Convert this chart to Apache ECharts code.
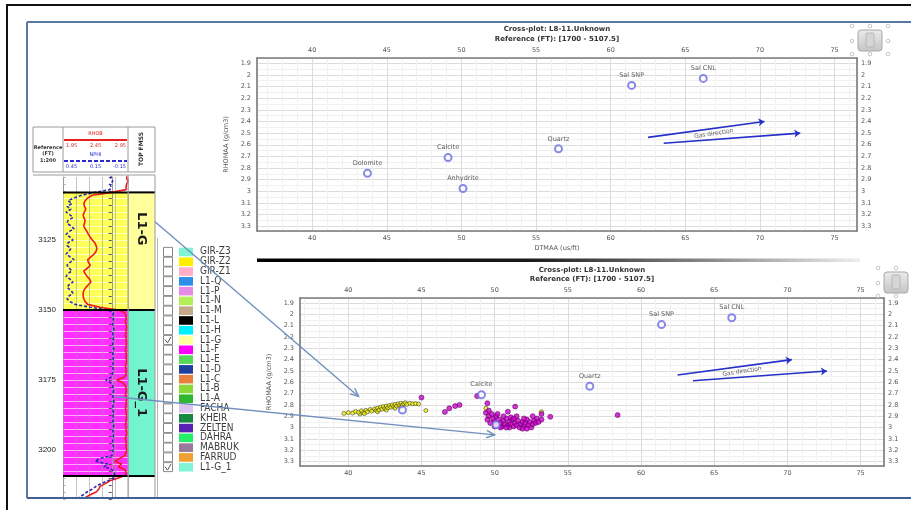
<!DOCTYPE html>
<html><head><meta charset="utf-8">
<script src="https://cdn.jsdelivr.net/npm/echarts@6/dist/echarts.min.js"></script>
<style>html,body{margin:0;padding:0;background:#fff}#c{width:911px;height:510px}</style>
</head><body><div id="c"></div>
<script>
// ---------- DATA ----------
const X_TICKS = [40,45,50,55,60,65,70,75];
const Y_TICKS = [1.9,2,2.1,2.2,2.3,2.4,2.5,2.6,2.7,2.8,2.9,3,3.1,3.2,3.3];
const MINERALS = [['Sal CNL',66.2,2.03],['Sal SNP',61.4,2.09],['Quartz',56.5,2.635],['Calcite',49.1,2.71],['Dolomite',43.7,2.845],['Anhydrite',50.1,2.975]];
const LOWER_PLOT_LABELLED = ['Sal CNL','Sal SNP','Quartz','Calcite'];
const GAS_ARROWS = [[[62.5,2.536],[70.3,2.40]],[[63.55,2.587],[72.7,2.50]]];
const GAS_LABEL = [66.9,2.505,'Gas direction'];
const L1G_POINTS = [[39.7,2.875],[40.0,2.868],[40.3,2.872],[40.5,2.858],[40.8,2.88],[40.7,2.865],[40.9,2.852],[41.0,2.87],[41.1,2.876],[41.2,2.848],[41.3,2.862],[41.5,2.84],[41.6,2.855],[41.8,2.835],[41.9,2.85],[42.0,2.828],[42.0,2.86],[42.1,2.845],[42.2,2.82],[42.3,2.838],[42.4,2.815],[42.5,2.832],[42.6,2.81],[42.6,2.845],[42.7,2.825],[42.8,2.805],[42.9,2.82],[43.0,2.8],[43.1,2.815],[43.2,2.795],[43.2,2.83],[43.3,2.81],[43.4,2.79],[43.5,2.805],[43.6,2.785],[43.6,2.82],[43.7,2.8],[43.8,2.79],[43.9,2.78],[44.0,2.795],[44.2,2.785],[44.4,2.79],[44.6,2.788],[44.8,2.792],[45.3,2.85],[49.4,2.83],[53.2,2.86]];
const L1G1_POINTS = [[45.0,2.735],[46.6,2.862],[46.9,2.83],[47.3,2.81],[47.6,2.8],[48.8,2.722],[49.5,2.785],[51.4,2.815],[53.8,2.905],[58.4,2.89],[53.2,2.88],[52.6,2.9],[49.4,2.87],[49.6,2.9],[49.5,2.93],[49.8,2.88],[49.9,2.92],[50.0,2.95],[50.1,2.9],[50.2,2.97],[50.3,2.93],[50.4,2.96],[50.5,2.99],[50.6,2.94],[50.7,2.97],[50.8,2.92],[50.9,2.98],[51.0,2.95],[51.0,3.0],[51.1,2.97],[51.2,2.93],[51.3,2.99],[51.4,2.96],[51.5,2.98],[51.6,2.94],[51.7,3.0],[51.8,2.97],[51.9,2.95],[52.0,2.99],[52.1,2.96],[52.2,2.93],[52.3,2.98],[52.4,2.95],[52.5,3.0],[52.6,2.97],[52.7,2.94],[52.8,2.96],[52.9,2.92],[53.0,2.95],[53.2,2.93],[50.2,2.88],[50.6,2.9],[51.1,2.91],[51.5,2.9],[50.0,2.99],[50.8,3.0],[51.9,3.01],[52.2,3.01],[49.7,2.96],[50.4,3.0],[51.3,2.92],[52.0,2.92],[49.6,2.85],[50.9,2.86]];

const DEPTHS = [3102,3103,3104,3105,3106,3107,3108,3109,3110,3111,
3112,3113,3114,3115,3116,3117,3118,3119,3120,3121,
3122,3123,3124,3125,3126,3127,3128,3129,3130,3131,
3132,3133,3134,3135,3136,3137,3138,3139,3140,3141,
3142,3143,3144,3145,3146,3147,3148,3149,3150,3151,
3152,3153,3154,3155,3156,3157,3158,3159,3160,3161,
3162,3163,3164,3165,3166,3167,3168,3169,3170,3171,
3172,3173,3174,3175,3176,3177,3178,3179,3180,3181,
3182,3183,3184,3185,3186,3187,3188,3189,3190,3191,
3192,3193,3194,3195,3196,3197,3198,3199,3200,3201,
3202,3203,3204,3205,3206,3207,3208,3209,3210,3211,
3212,3213,3214,3215,3216,3217];
const RHOB = [2.93,2.93,2.95,2.93,2.92,2.92,2.70,2.40,2.33,2.29,
2.27,2.28,2.30,2.28,2.26,2.27,2.29,2.28,2.27,2.29,
2.32,2.34,2.37,2.40,2.44,2.46,2.47,2.46,2.43,2.38,
2.33,2.34,2.37,2.33,2.27,2.29,2.32,2.36,2.38,2.34,
2.30,2.27,2.26,2.26,2.27,2.29,2.33,2.52,2.80,2.90,
2.92,2.92,2.91,2.92,2.93,2.92,2.92,2.91,2.92,2.92,
2.93,2.92,2.91,2.92,2.92,2.92,2.93,2.92,2.91,2.92,
2.92,2.92,2.89,2.78,2.87,2.91,2.92,2.92,2.91,2.92,
2.93,2.92,2.92,2.91,2.92,2.92,2.93,2.92,2.92,2.91,
2.92,2.92,2.93,2.92,2.91,2.92,2.92,2.92,2.93,2.92,
2.90,2.82,2.75,2.85,2.80,2.90,2.92,2.91,2.80,2.67,
2.60,2.52,2.50,2.46,2.37,2.29];
const NPHI = [0.007,0.007,-0.010,0.016,0.007,0.016,0.155,0.275,0.348,0.404,
0.367,0.413,0.376,0.422,0.385,0.358,0.404,0.413,0.376,0.348,
0.395,0.422,0.385,0.358,0.404,0.413,0.376,0.395,0.422,0.385,
0.348,0.385,0.413,0.395,0.367,0.404,0.422,0.385,0.358,0.395,
0.413,0.376,0.358,0.395,0.413,0.385,0.339,0.201,0.035,-0.012,
-0.012,-0.015,-0.012,-0.008,-0.012,-0.020,-0.012,-0.010,-0.015,-0.012,
-0.008,-0.012,-0.018,-0.012,-0.010,-0.012,-0.015,-0.012,-0.008,-0.012,
-0.012,-0.005,0.007,0.055,0.010,-0.008,-0.012,-0.015,-0.012,-0.010,
-0.015,-0.020,-0.012,-0.010,-0.012,-0.015,-0.012,-0.008,-0.012,-0.018,
-0.012,-0.010,-0.012,-0.015,-0.012,-0.008,-0.012,-0.015,-0.012,-0.010,
-0.002,0.108,0.155,0.035,0.072,-0.002,-0.021,-0.030,-0.021,0.035,
0.099,0.145,0.182,0.228,0.265,0.302];
const DEPTH_LABELS = [3125,3150,3175,3200];
const ZONE_NAMES = ['L1-G','L1-G_1'];
const ZONE_TOPS = [3108,3150];
const ZONE_BASES = [3150,3209.3];
const ZONE_LABEL_DEPTHS = [3121,3179.5];
const ZONE_TRACK_FILL = ['#ffff5c','#ff2eff'];
const ZONE_COLORS = ['#ffff9c','#74f3cf'];
const LEGEND_NAMES = ['GIR-Z3','GIR-Z2','GIR-Z1','L1-Q','L1-P','L1-N','L1-M','L1-L','L1-H','L1-G','L1-F','L1-E','L1-D','L1-C','L1-B','L1-A','FACHA','KHEIR','ZELTEN','DAHRA','MABRUK','FARRUD','L1-G_1'];
const LEGEND_COLORS = ['#7ff5d5','#ffee00','#ffb0c8','#2f8fe8','#e88ae8','#b2ee55','#c4a88c','#000000','#00f0ff','#ffff99','#ff00ff','#55d855','#1f3f9f','#e87f3a','#88d838','#2fb82f','#dcc4f0','#168a40','#5a22b4','#22ee66','#9a789a','#f0a030','#7ff5d5'];
const LEGEND_CHECKED = ['L1-G','L1-G_1'];
const LINKS = [{axes:[7,6], from:[1,3118.5], to:[40.7,2.725]},{axes:[5,4], from:[-0.03,3181], to:[50.0,3.065]}];

// ---------- LAYOUT / STYLE ----------
const FONT = 'DejaVu Sans';
const TOP_X=[36.3,76.5], TOP_Y=[1.855,3.34], BOT_X=[36.7,76.6], BOT_Y=[1.855,3.34];
const lab = {fontSize:6.5, fontFamily:FONT, color:'#555'};
function xAx(grid, ext, pos, main, extra){
  return Object.assign({gridIndex:grid,type:'value',position:pos,min:ext[0],max:ext[1],splitNumber:8,
    axisLine:{show:true,onZero:false,lineStyle:{color:'#7a7a7a',width:1.6}},
    axisTick:{show:false},
    axisLabel:Object.assign({customValues:X_TICKS,margin:4},lab),
    splitLine:{show:main,lineStyle:{color:'#dcdcdc',width:1}},
    minorTick:{show:false,splitNumber:5},
    minorSplitLine:{show:main,lineStyle:{color:'#f1f1f1',width:1}}}, extra||{});
}
function yAx(grid, ext, pos, main, extra){
  return Object.assign({gridIndex:grid,type:'value',position:pos,min:ext[0],max:ext[1],splitNumber:14,inverse:true,
    axisLine:{show:true,onZero:false,lineStyle:{color:'#7a7a7a',width:1.6}},
    axisTick:{show:false},
    axisLabel:Object.assign({customValues:Y_TICKS,margin:pos==='left'?6:4},lab),
    splitLine:{show:main,lineStyle:{color:'#dcdcdc',width:1}},
    minorTick:{show:false,splitNumber:2},
    minorSplitLine:{show:main,lineStyle:{color:'#f1f1f1',width:1}}}, extra||{});
}
const hidden = {show:false};
const zoneData = ZONE_TOPS.map((t,i)=>[0,t,ZONE_BASES[i]]);

function renderZoneFill(params, api){
  const cs=params.coordSys;
  const y1=api.coord([0,api.value(1)])[1], y2=api.coord([0,api.value(2)])[1];
  return {type:'rect',shape:{x:cs.x,y:y1,width:cs.width,height:y2-y1},style:{fill:ZONE_TRACK_FILL[params.dataIndex]}};
}
function bounds(cs,y1,y2){
  return [{type:'line',shape:{x1:cs.x,y1:y1,x2:cs.x+cs.width,y2:y1},style:{stroke:'#000',lineWidth:2}},
          {type:'line',shape:{x1:cs.x,y1:y2,x2:cs.x+cs.width,y2:y2},style:{stroke:'#000',lineWidth:2}}];
}
function renderZoneBounds(params, api){
  const cs=params.coordSys;
  const y1=api.coord([0,api.value(1)])[1], y2=api.coord([0,api.value(2)])[1];
  return {type:'group',children:bounds(cs,y1,y2)};
}
function renderFormation(params, api){
  const cs=params.coordSys, i=params.dataIndex;
  const y1=api.coord([0,api.value(1)])[1], y2=api.coord([0,api.value(2)])[1];
  const yl=api.coord([0,ZONE_LABEL_DEPTHS[i]])[1];
  return {type:'group',children:[
    {type:'rect',shape:{x:cs.x,y:y1,width:cs.width,height:y2-y1},style:{fill:ZONE_COLORS[i]}}
  ].concat(bounds(cs,y1,y2)).concat([
    {type:'text',x:cs.x+cs.width/2,y:yl,rotation:-Math.PI/2,style:{text:ZONE_NAMES[i],x:0,y:0,align:'center',verticalAlign:'middle',font:'bold 13px "DejaVu Sans"',fill:'#1a1a1a'}}
  ])};
}
function renderLegend(params, api){
  const cs=params.coordSys, i=params.dataIndex;
  const y=api.coord([0,api.value(1)])[1], x0=cs.x;
  const ch=[
    {type:'rect',shape:{x:x0+3.5,y:y-4.5,width:9,height:9},style:{fill:'#fff',stroke:'#8a8a8a',lineWidth:1}},
    {type:'rect',shape:{x:x0+19,y:y-4.2,width:14,height:8.6},style:{fill:LEGEND_COLORS[i]}},
    {type:'text',style:{text:LEGEND_NAMES[i],x:x0+40,y:y,align:'left',verticalAlign:'middle',font:'10px "Liberation Sans Narrow","DejaVu Sans Condensed",sans-serif',fill:'#3c3c3c'}}
  ];
  if (LEGEND_CHECKED.indexOf(LEGEND_NAMES[i])>=0){
    ch.push({type:'polyline',shape:{points:[[x0+5,y-0.5],[x0+7.5,y+3],[x0+11,y-3]]},style:{stroke:'#555',lineWidth:1,fill:null}});
  }
  return {type:'group',children:ch};
}

// ---------- GRAPHICS ----------
const G=[];
function gline(x1,y1,x2,y2,c,w,z,dash){G.push({type:'line',silent:true,z:z||0,shape:{x1,y1,x2,y2},style:{stroke:c,lineWidth:w,lineDash:dash||null}});}
function gtext(x,y,s,font,fill,align,rot,z){G.push({type:'text',silent:true,z:z||1,x,y,rotation:rot||0,style:{text:s,font,fill,align:align||'center',verticalAlign:'middle',textAlign:align||'center',textVerticalAlign:'middle'}});}
// frames
G.push({type:'rect',silent:true,z:100,shape:{x:7,y:5,width:915,height:515},style:{fill:'none',stroke:'#111',lineWidth:2}});
gline(27,22,911,22,'#5a78a6',2,100);
gline(27,22,27,498,'#5a78a6',2,100);
gline(27,498,911,498,'#3f5f95',2,100);
// lower window title bar
G.push({type:'rect',silent:true,z:1,shape:{x:257,y:258.5,width:603,height:3.5},style:{fill:new echarts.graphic.LinearGradient(0,0,1,0,[{offset:0,color:'#000'},{offset:0.45,color:'#1a1a1a'},{offset:0.75,color:'#8a8a8a'},{offset:1,color:'#eeeeee'}])}});
// titles
const TB='bold 7px "DejaVu Sans"';
gtext(557,29,'Cross-plot: L8-11.Unknown',TB,'#333');
gtext(557,39,'Reference (FT): [1700 - 5107.5]',TB,'#333');
gtext(592,270,'Cross-plot: L8-11.Unknown',TB,'#333');
gtext(592,279.5,'Reference (FT): [1700 - 5107.5]',TB,'#333');
// navigation widgets
function widget(cx,cy){
  G.push({type:'rect',silent:true,z:2,shape:{x:cx-12,y:cy-10,width:24,height:21,r:3},style:{fill:new echarts.graphic.LinearGradient(0,0,0,1,[{offset:0,color:'#ececec'},{offset:1,color:'#c4c4c4'}]),stroke:'#a8a8a8',lineWidth:1}});
  G.push({type:'rect',silent:true,z:3,shape:{x:cx-4,y:cy-7,width:8,height:14,r:1},style:{fill:'#d6d6d6',stroke:'#b0b0b0',lineWidth:0.8}});
  [[-18,-14],[0,-14],[18,-14],[-18,1],[18,1],[-18,14],[0,14],[18,14]].forEach(p=>{
    G.push({type:'circle',silent:true,z:2,shape:{cx:cx+p[0],cy:cy+p[1],r:1.8},style:{fill:'#fff',stroke:'#b8b8b8',lineWidth:0.8}});
  });
}
widget(870,40); widget(896,282);
// log header
G.push({type:'rect',silent:true,z:1,shape:{x:33,y:127,width:122,height:45},style:{fill:'#fff',stroke:'#9a9a9a',lineWidth:1}});
gline(63,127,63,172,'#9a9a9a',1,2); gline(128,127,128,172,'#9a9a9a',1,2);
const HB='bold 5px "DejaVu Sans"', HS='5px "DejaVu Sans"';
gtext(48,148,'Reference',HB,'#333'); gtext(48,154,'(FT)',HB,'#333'); gtext(48,161,'1:200',HB,'#333');
gtext(95.5,134,'RHOB',HS,'#e02020');
gline(64,140,127,140,'#e82020',1.8,2);
gtext(66,146,'1.95',HS,'#e02020','left'); gtext(95.5,146,'2.45',HS,'#e02020'); gtext(126,146,'2.95',HS,'#e02020','right');
gtext(95.5,155,'NPHI',HS,'#2a2ad0');
gline(64,161,127,161,'#2a2ad0',2,2,[4,2]);
gtext(66,167,'0.45',HS,'#2a2ad0','left'); gtext(95.5,167,'0.15',HS,'#2a2ad0'); gtext(126,167,'-0.15',HS,'#2a2ad0','right');
gtext(141.5,149,'TOP FMSS','bold 6px "DejaVu Sans"','#333','center',Math.PI/2);
// track frame
gline(33,175,155,175,'#9a9a9a',1,5);
gline(128,175,128,498,'#9a9a9a',1,5);
gline(155,175,155,498,'#9a9a9a',1,5);
gline(157.5,238,157.5,498,'#b5b5b5',1,5);

// ---------- OPTION ----------
const option = {
  animation:false,
  backgroundColor:'#fff',
  grid:[
    {left:257,top:58,width:600,height:173},
    {left:300,top:298,width:584,height:168},
    {left:63,top:177,width:65,height:322},
    {left:128,top:177,width:27,height:322},
    {left:160,top:247,width:95,height:225}
  ],
  xAxis:[
    xAx(0,TOP_X,'bottom',true,{name:'DTMAA (us/ft)',nameLocation:'middle',nameGap:14,nameTextStyle:lab}),
    xAx(0,TOP_X,'top',false),
    xAx(1,BOT_X,'bottom',true),
    xAx(1,BOT_X,'top',false),
    {gridIndex:2,type:'value',min:1.95,max:2.95,show:false},
    {gridIndex:2,type:'value',min:-0.15,max:0.45,inverse:true,show:false},
    {gridIndex:2,type:'value',min:0,max:100,interval:20,z:2,axisLine:hidden,axisTick:hidden,axisLabel:hidden,splitLine:{show:true,lineStyle:{color:'rgba(150,150,150,0.55)',width:1}}},
    {gridIndex:3,type:'value',min:0,max:1,show:false},
    {gridIndex:4,type:'value',min:0,max:1,show:false}
  ],
  yAxis:[
    yAx(0,TOP_Y,'left',true,{name:'RHOMAA (g/cm3)',nameLocation:'middle',nameGap:26,nameRotate:90,nameTextStyle:lab}),
    yAx(0,TOP_Y,'right',false),
    yAx(1,BOT_Y,'left',true,{name:'RHOMAA (g/cm3)',nameLocation:'middle',nameGap:27,nameRotate:90,nameTextStyle:lab}),
    yAx(1,BOT_Y,'right',false),
    {gridIndex:2,type:'value',min:3102.5,max:3217.5,interval:2.5,inverse:true,position:'left',z:2,
      axisLine:{show:true,lineStyle:{color:'#9a9a9a',width:1}},
      axisTick:{show:true,length:3,lineStyle:{color:'#555'}},
      axisLabel:{customValues:DEPTH_LABELS,formatter:v=>String(v),fontSize:8,fontFamily:'Liberation Sans',color:'#222',margin:7},
      splitLine:{show:true,lineStyle:{color:'rgba(255,255,255,0.6)',width:1}}},
    {gridIndex:2,type:'value',min:3102.5,max:3217.5,interval:2.5,inverse:true,position:'left',offset:30,
      axisLine:{show:true,lineStyle:{color:'#9a9a9a',width:1}},
      axisTick:{show:true,inside:true,length:3,lineStyle:{color:'#555'}},
      axisLabel:hidden,splitLine:hidden},
    {gridIndex:3,type:'value',min:3102.5,max:3217.5,inverse:true,show:false},
    {gridIndex:4,type:'category',data:LEGEND_NAMES,inverse:true,show:false}
  ],
  graphic:{elements:G},
  series:[]
};
function plotSeries(xi, yi, labelled){
  return [
    {type:'scatter',xAxisIndex:xi,yAxisIndex:yi,z:5,
      data:MINERALS.map(m=>({name:m[0],value:[m[1],m[2]],label:{show:!labelled||labelled.indexOf(m[0])>=0}})),
      symbol:'emptyCircle',symbolSize:7,itemStyle:{color:'#6b6be0',borderWidth:1.2},
      label:{show:true,position:'top',distance:2,formatter:'{b}',fontSize:6.5,fontFamily:FONT,color:'#333'}},
    {type:'lines',coordinateSystem:'cartesian2d',xAxisIndex:xi,yAxisIndex:yi,z:5,
      data:GAS_ARROWS.map(a=>({coords:a})),symbol:['none','arrow'],symbolSize:6,
      lineStyle:{color:'#2430c8',width:1.6,opacity:1}},
    {type:'scatter',xAxisIndex:xi,yAxisIndex:yi,z:5,data:[{name:GAS_LABEL[2],value:[GAS_LABEL[0],GAS_LABEL[1]]}],
      symbol:'circle',symbolSize:1,itemStyle:{color:'rgba(0,0,0,0)'},
      label:{show:true,position:'inside',formatter:'{b}',rotate:9,fontSize:6,fontFamily:FONT,color:'#333'}}
  ];
}
option.series = option.series.concat(plotSeries(0,0,null), plotSeries(2,2,LOWER_PLOT_LABELLED), [
  {type:'scatter',xAxisIndex:2,yAxisIndex:2,z:4,data:L1G_POINTS,symbolSize:4,itemStyle:{color:'#f2f200',borderColor:'#333',borderWidth:0.7}},
  {type:'scatter',xAxisIndex:2,yAxisIndex:2,z:4,data:L1G1_POINTS,symbolSize:5,itemStyle:{color:'#cc00cc',borderColor:'#550055',borderWidth:0.7}},
  {type:'custom',xAxisIndex:6,yAxisIndex:4,z:1,data:zoneData,encode:{x:0,y:[1,2]},renderItem:renderZoneFill},
  {type:'line',xAxisIndex:4,yAxisIndex:4,z:3,data:DEPTHS.map((d,i)=>[RHOB[i],d]),symbol:'none',lineStyle:{color:'#ee1c1c',width:1.6}},
  {type:'line',xAxisIndex:5,yAxisIndex:4,z:3,data:DEPTHS.map((d,i)=>[NPHI[i],d]),symbol:'none',lineStyle:{color:'#2a2ab0',width:1.6,type:[3,2]}},
  {type:'custom',xAxisIndex:6,yAxisIndex:4,z:4,data:zoneData,encode:{x:0,y:[1,2]},renderItem:renderZoneBounds},
  {type:'custom',xAxisIndex:7,yAxisIndex:6,z:2,data:zoneData,encode:{x:0,y:[1,2]},renderItem:renderFormation},
  {type:'custom',xAxisIndex:8,yAxisIndex:7,z:2,data:LEGEND_NAMES.map((n,i)=>[0,i]),encode:{x:0,y:1},renderItem:renderLegend}
]);

const chart = echarts.init(document.getElementById('c'));
chart.setOption(option);
// link arrows from the log / legend to the lower cross-plot, positioned via the axes
LINKS.forEach(l=>{
  const a = chart.convertToPixel({xAxisIndex:l.axes[0],yAxisIndex:l.axes[1]}, l.from);
  const b = chart.convertToPixel({xAxisIndex:2,yAxisIndex:2}, l.to);
  const ang = Math.atan2(b[1]-a[1], b[0]-a[0]), L=9, s=0.42;
  const c = '#7090bd';
  G.push({type:'line',silent:true,z:50,shape:{x1:a[0],y1:a[1],x2:b[0],y2:b[1]},style:{stroke:c,lineWidth:1.4}});
  G.push({type:'polyline',silent:true,z:50,shape:{points:[[b[0]-L*Math.cos(ang-s),b[1]-L*Math.sin(ang-s)],[b[0],b[1]],[b[0]-L*Math.cos(ang+s),b[1]-L*Math.sin(ang+s)]]},style:{stroke:c,lineWidth:1.4,fill:null}});
});
chart.setOption(option, true);
</script>
</body></html>
